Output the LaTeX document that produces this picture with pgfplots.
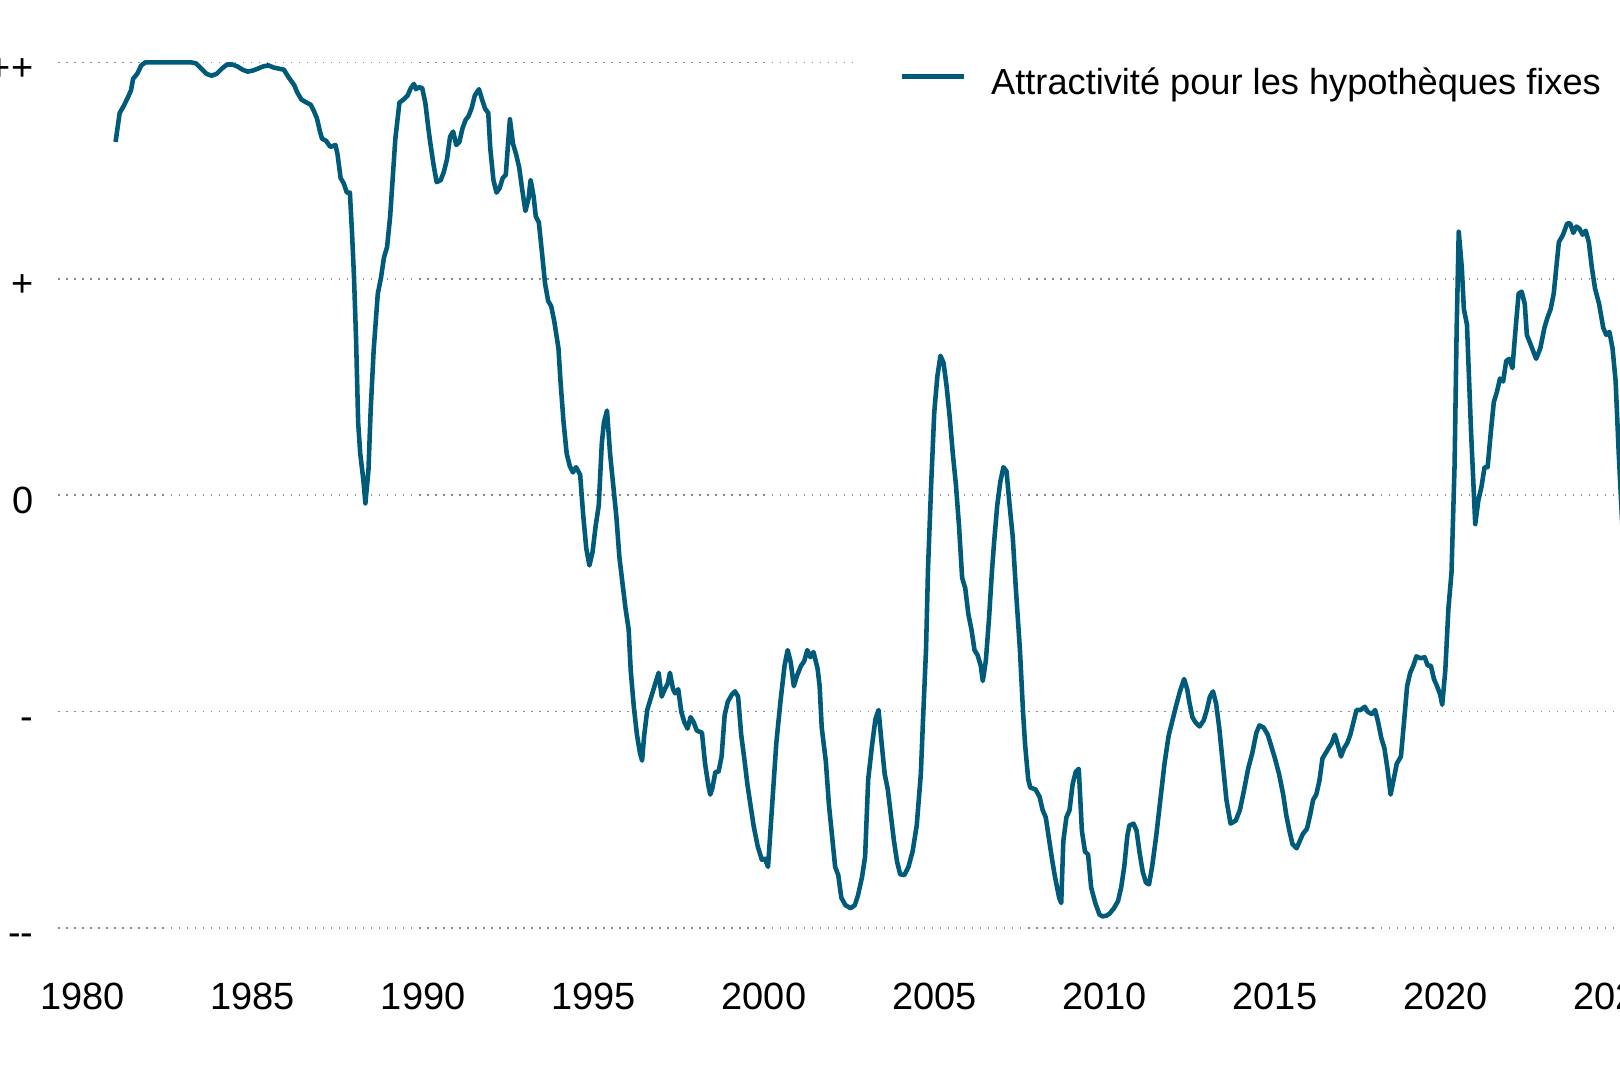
\documentclass[border=0pt]{standalone}
\usepackage{pgfplots}
\pgfplotsset{compat=1.18}
\usepackage{fontspec}
\setmainfont{Liberation Sans}
\definecolor{linecol}{HTML}{005B7A}
\pgfplotsset{legend image code/.code={\draw[#1] (0cm,0.07cm) -- (0.62cm,0.07cm);}}

\begin{document}
\begin{tikzpicture}
\begin{axis}[
  x=0.3407cm, y=2.164cm,
  xmin=1979.29, xmax=2025.128,
  ymin=-2.2, ymax=2.2,
  axis line style={draw=none},
  major tick length=0pt,
  xtick={1980,1985,...,2025},
  xticklabels={1980,1985,1990,1995,2000,2005,2010,2015,2020,2025},
  ytick={-2,-1,0,1,2},
  yticklabels={{-{}-},{-},{0},{+},{++}},
  ymajorgrids,
  grid style={black!45, line width=0.45pt, dash pattern=on 0.45pt off 1.83pt},
  tick label style={font=\fontsize{10.8}{12}\selectfont, text=black},
  xticklabel style={anchor=north, inner sep=0pt, yshift=-0.108cm},
  yticklabel style={anchor=base east, inner sep=0pt, xshift=-0.243cm, yshift=-0.18cm},
  legend style={at={(axis cs:2002.76,1.901)}, anchor=west, draw=none, fill=white,
    inner xsep=0.41cm, inner ysep=0.2cm, font=\fontsize{10.3}{12}\selectfont,
    nodes={inner sep=0pt}, column sep=0.25cm},
]
\addplot[linecol, line width=1.3pt, line join=round] table {
1980.970 1.632
1981.091 1.766
1981.212 1.799
1981.333 1.838
1981.424 1.871
1981.485 1.924
1981.606 1.947
1981.727 1.986
1981.848 2.000
1983.182 2.000
1983.333 1.995
1983.485 1.971
1983.636 1.947
1983.788 1.938
1983.939 1.947
1984.091 1.971
1984.242 1.990
1984.394 1.990
1984.545 1.981
1984.697 1.966
1984.848 1.957
1985.000 1.962
1985.152 1.971
1985.303 1.981
1985.455 1.986
1985.606 1.976
1985.758 1.971
1985.909 1.966
1986.061 1.928
1986.212 1.895
1986.303 1.861
1986.424 1.828
1986.576 1.814
1986.697 1.804
1986.788 1.776
1986.879 1.742
1986.970 1.680
1987.030 1.647
1987.152 1.637
1987.273 1.609
1987.424 1.618
1987.485 1.575
1987.576 1.465
1987.667 1.441
1987.758 1.398
1987.848 1.398
1987.909 1.217
1987.970 1.002
1988.030 0.716
1988.091 0.334
1988.152 0.191
1988.242 0.072
1988.303 -0.038
1988.394 0.119
1988.455 0.382
1988.545 0.668
1988.667 0.931
1988.758 1.002
1988.848 1.098
1988.939 1.146
1989.030 1.289
1989.091 1.432
1989.182 1.647
1989.303 1.814
1989.424 1.828
1989.545 1.847
1989.636 1.881
1989.727 1.900
1989.788 1.876
1989.879 1.885
1989.970 1.881
1990.061 1.814
1990.152 1.694
1990.212 1.623
1990.303 1.527
1990.394 1.446
1990.515 1.456
1990.606 1.494
1990.697 1.551
1990.788 1.656
1990.879 1.680
1990.970 1.618
1991.061 1.632
1991.152 1.694
1991.242 1.733
1991.333 1.752
1991.424 1.790
1991.515 1.847
1991.636 1.876
1991.727 1.828
1991.818 1.785
1991.909 1.766
1991.970 1.599
1992.061 1.456
1992.152 1.398
1992.242 1.418
1992.333 1.465
1992.424 1.480
1992.485 1.613
1992.545 1.737
1992.636 1.623
1992.727 1.575
1992.818 1.513
1992.909 1.408
1993.000 1.313
1993.091 1.370
1993.152 1.456
1993.242 1.379
1993.303 1.289
1993.394 1.260
1993.485 1.122
1993.576 0.978
1993.667 0.897
1993.758 0.873
1993.848 0.802
1993.970 0.678
1994.030 0.525
1994.121 0.334
1994.212 0.191
1994.303 0.134
1994.394 0.105
1994.485 0.129
1994.606 0.095
1994.697 -0.095
1994.788 -0.248
1994.879 -0.325
1994.970 -0.263
1995.061 -0.143
1995.152 -0.048
1995.242 0.239
1995.303 0.334
1995.394 0.391
1995.485 0.191
1995.576 0.048
1995.667 -0.095
1995.758 -0.286
1995.848 -0.406
1995.939 -0.525
1996.030 -0.620
1996.091 -0.811
1996.182 -0.978
1996.273 -1.107
1996.364 -1.193
1996.424 -1.227
1996.485 -1.112
1996.576 -0.993
1996.667 -0.945
1996.788 -0.883
1996.909 -0.821
1997.000 -0.931
1997.091 -0.897
1997.182 -0.869
1997.242 -0.821
1997.333 -0.897
1997.394 -0.916
1997.485 -0.897
1997.576 -1.002
1997.667 -1.050
1997.758 -1.079
1997.848 -1.026
1997.939 -1.050
1998.030 -1.088
1998.182 -1.098
1998.273 -1.241
1998.364 -1.336
1998.424 -1.384
1998.485 -1.356
1998.576 -1.279
1998.667 -1.279
1998.758 -1.208
1998.848 -1.017
1998.939 -0.955
1999.061 -0.921
1999.152 -0.907
1999.242 -0.931
1999.333 -1.107
1999.424 -1.217
1999.515 -1.336
1999.606 -1.432
1999.697 -1.527
1999.818 -1.623
1999.939 -1.685
2000.030 -1.680
2000.121 -1.718
2000.242 -1.432
2000.364 -1.146
2000.485 -0.955
2000.606 -0.788
2000.697 -0.716
2000.788 -0.773
2000.879 -0.883
2000.970 -0.835
2001.091 -0.788
2001.182 -0.768
2001.273 -0.716
2001.364 -0.749
2001.455 -0.725
2001.576 -0.802
2001.636 -0.883
2001.697 -1.074
2001.818 -1.231
2001.909 -1.432
2002.000 -1.575
2002.091 -1.718
2002.182 -1.756
2002.273 -1.861
2002.394 -1.895
2002.545 -1.909
2002.667 -1.895
2002.758 -1.852
2002.879 -1.766
2002.970 -1.671
2003.061 -1.313
2003.182 -1.146
2003.273 -1.036
2003.364 -0.993
2003.455 -1.146
2003.545 -1.289
2003.636 -1.360
2003.727 -1.480
2003.818 -1.599
2003.909 -1.694
2004.000 -1.752
2004.121 -1.756
2004.242 -1.718
2004.364 -1.647
2004.485 -1.527
2004.606 -1.289
2004.667 -1.050
2004.758 -0.716
2004.818 -0.334
2004.909 0.048
2005.000 0.382
2005.091 0.549
2005.182 0.644
2005.273 0.611
2005.364 0.501
2005.455 0.358
2005.545 0.191
2005.636 0.048
2005.727 -0.143
2005.818 -0.382
2005.909 -0.430
2006.000 -0.549
2006.091 -0.620
2006.182 -0.716
2006.273 -0.740
2006.364 -0.788
2006.424 -0.859
2006.515 -0.764
2006.606 -0.573
2006.697 -0.344
2006.758 -0.215
2006.848 -0.048
2006.939 0.062
2007.030 0.129
2007.121 0.110
2007.212 -0.048
2007.303 -0.191
2007.394 -0.430
2007.515 -0.716
2007.606 -1.002
2007.667 -1.155
2007.758 -1.313
2007.818 -1.351
2007.970 -1.360
2008.091 -1.394
2008.182 -1.456
2008.273 -1.489
2008.364 -1.585
2008.455 -1.680
2008.545 -1.766
2008.667 -1.861
2008.727 -1.885
2008.788 -1.599
2008.879 -1.489
2008.970 -1.456
2009.061 -1.336
2009.152 -1.279
2009.242 -1.265
2009.333 -1.551
2009.424 -1.647
2009.515 -1.661
2009.606 -1.814
2009.727 -1.885
2009.848 -1.938
2009.939 -1.947
2010.061 -1.943
2010.152 -1.933
2010.273 -1.909
2010.394 -1.876
2010.485 -1.814
2010.576 -1.718
2010.667 -1.575
2010.727 -1.527
2010.848 -1.518
2010.939 -1.551
2011.030 -1.656
2011.121 -1.742
2011.212 -1.790
2011.303 -1.799
2011.394 -1.718
2011.515 -1.575
2011.636 -1.408
2011.758 -1.241
2011.879 -1.112
2012.000 -1.036
2012.091 -0.978
2012.212 -0.907
2012.333 -0.850
2012.424 -0.897
2012.485 -0.955
2012.576 -1.026
2012.667 -1.050
2012.788 -1.069
2012.909 -1.041
2013.000 -0.993
2013.091 -0.931
2013.182 -0.907
2013.273 -0.964
2013.364 -1.074
2013.455 -1.217
2013.576 -1.408
2013.697 -1.518
2013.848 -1.504
2013.970 -1.456
2014.091 -1.365
2014.212 -1.265
2014.333 -1.193
2014.455 -1.098
2014.545 -1.064
2014.667 -1.074
2014.788 -1.107
2014.909 -1.169
2015.000 -1.217
2015.121 -1.289
2015.242 -1.384
2015.333 -1.480
2015.424 -1.551
2015.515 -1.613
2015.636 -1.632
2015.727 -1.599
2015.818 -1.566
2015.939 -1.542
2016.030 -1.480
2016.121 -1.408
2016.212 -1.384
2016.303 -1.322
2016.394 -1.217
2016.485 -1.193
2016.576 -1.169
2016.667 -1.146
2016.758 -1.107
2016.848 -1.155
2016.939 -1.208
2017.030 -1.169
2017.121 -1.146
2017.212 -1.107
2017.303 -1.050
2017.394 -0.993
2017.515 -0.993
2017.636 -0.978
2017.727 -1.002
2017.848 -1.012
2017.939 -0.993
2018.030 -1.050
2018.121 -1.122
2018.212 -1.169
2018.303 -1.265
2018.394 -1.384
2018.485 -1.313
2018.576 -1.241
2018.697 -1.208
2018.788 -1.050
2018.879 -0.883
2018.970 -0.821
2019.061 -0.788
2019.152 -0.745
2019.273 -0.754
2019.394 -0.749
2019.485 -0.788
2019.576 -0.788
2019.667 -0.850
2019.758 -0.883
2019.848 -0.921
2019.909 -0.969
2020.000 -0.811
2020.091 -0.525
2020.182 -0.358
2020.273 0.143
2020.333 0.764
2020.394 1.217
2020.485 1.050
2020.545 0.859
2020.636 0.788
2020.758 0.286
2020.879 -0.134
2020.970 -0.024
2021.061 0.038
2021.152 0.129
2021.242 0.129
2021.333 0.286
2021.424 0.430
2021.515 0.477
2021.606 0.539
2021.697 0.525
2021.788 0.620
2021.879 0.630
2021.970 0.587
2022.061 0.764
2022.152 0.931
2022.242 0.940
2022.333 0.883
2022.394 0.740
2022.515 0.692
2022.667 0.630
2022.788 0.678
2022.909 0.773
2023.000 0.821
2023.091 0.859
2023.182 0.931
2023.333 1.169
2023.455 1.203
2023.576 1.255
2023.667 1.255
2023.758 1.212
2023.848 1.241
2023.939 1.231
2024.030 1.203
2024.121 1.222
2024.212 1.169
2024.303 1.050
2024.394 0.955
2024.515 0.883
2024.636 0.773
2024.727 0.740
2024.818 0.754
2024.909 0.678
2025.000 0.525
2025.091 0.191
2025.212 -0.191
};
\addlegendentry{Attractivité pour les hypothèques fixes}
\coordinate (bl) at (axis cs:1977.578,-2.703);
\coordinate (tr) at (axis cs:2025.128,2.288);
\end{axis}
\pgfresetboundingbox
\path[use as bounding box] (bl) rectangle (tr);
\end{tikzpicture}
\end{document}
